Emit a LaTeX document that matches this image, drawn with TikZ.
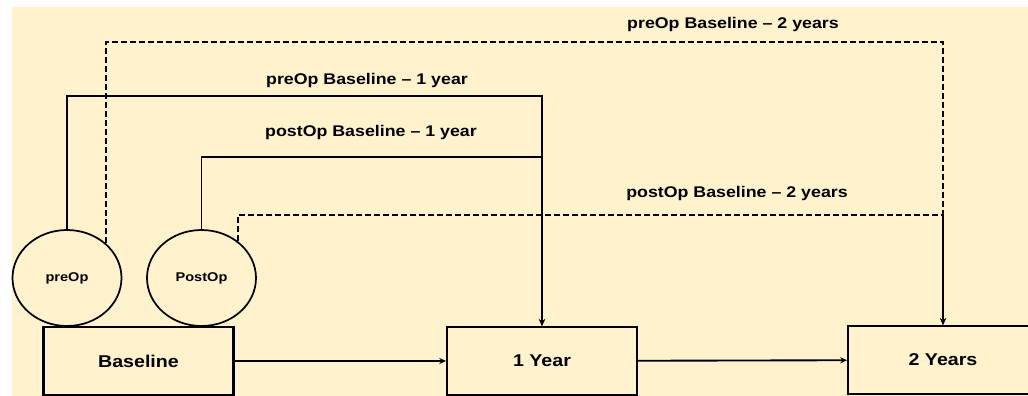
\documentclass[tikz,border=0pt]{standalone}
\usepackage{fontspec}
\setmainfont{Liberation Sans}[FakeStretch=1.15]
\usepackage{tikz}
\usetikzlibrary{positioning, shapes.geometric, arrows.meta}

\definecolor{paper}{HTML}{FFF2CC}

\tikzset{
  stagebox/.style={draw, line width=1.6pt, fill=paper, minimum width=142.5pt, minimum height=51pt,
    inner sep=0pt, font=\fontsize{12.8}{15}\selectfont\bfseries},
  opcircle/.style={draw, ellipse, line width=1.3pt, fill=paper, minimum width=81.75pt, minimum height=72pt,
    inner sep=0pt, font=\fontsize{9.5}{11}\selectfont\bfseries},
  pathlabel/.style={font=\fontsize{11.6}{13}\selectfont\bfseries},
  link/.style={line width=1.4pt, -{Stealth[length=5pt,width=4.5pt]}},
  dashlink/.style={link, dash pattern=on 4.5pt off 2.25pt}
}

\begin{document}
\begin{tikzpicture}[x=0.75pt, y=-0.75pt]
    % page and background
    \useasboundingbox (0,0) rectangle (1028,396);
    \clip (0,0) rectangle (1028,396);
    \fill[paper] (12,7) rectangle (1028,396);

    % time points
    \node[stagebox] (baseline) at (138.5,361) {Baseline};
    \node[stagebox] (oneYear) at (542,361) {1 Year};
    \node[stagebox] (twoYears) at (943,360) {2 Years};

    % baseline groups
    \node[opcircle] (preOp) at (67,278) {preOp};
    \node[opcircle] (postOp) at (201.5,278) {PostOp};

    % levels of the routed lines
    \coordinate (preOneLevel) at (0,96);
    \coordinate (postOneLevel) at (0,157);
    \coordinate (preTwoLevel) at (0,42);
    \coordinate (postTwoLevel) at (0,215);

    \draw[link] (baseline) -- (oneYear);
    \draw[link] (oneYear) -- (twoYears);

    \draw[link] (preOp.north) -- (preOp.north |- preOneLevel) -| (oneYear.north);
    \draw[link] (postOp.north) -- (postOp.north |- postOneLevel) -| (oneYear.north);
    \draw[dashlink] (preOp.42) -- (preOp.42 |- preTwoLevel) -| (twoYears.north);
    \draw[dashlink] (postOp.45) -- (postOp.45 |- postTwoLevel) -| (twoYears.north);

    \node[pathlabel] (preOneText) at (367,80) {preOp Baseline -- 1 year};
    \node[pathlabel] (postOneText) at (371,132) {postOp Baseline -- 1 year};
    \node[pathlabel] (preTwoText) at (733,25) {preOp Baseline -- 2 years};
    \node[pathlabel] (postTwoText) at (737,193) {postOp Baseline -- 2 years};

  \end{tikzpicture}
\end{document}
